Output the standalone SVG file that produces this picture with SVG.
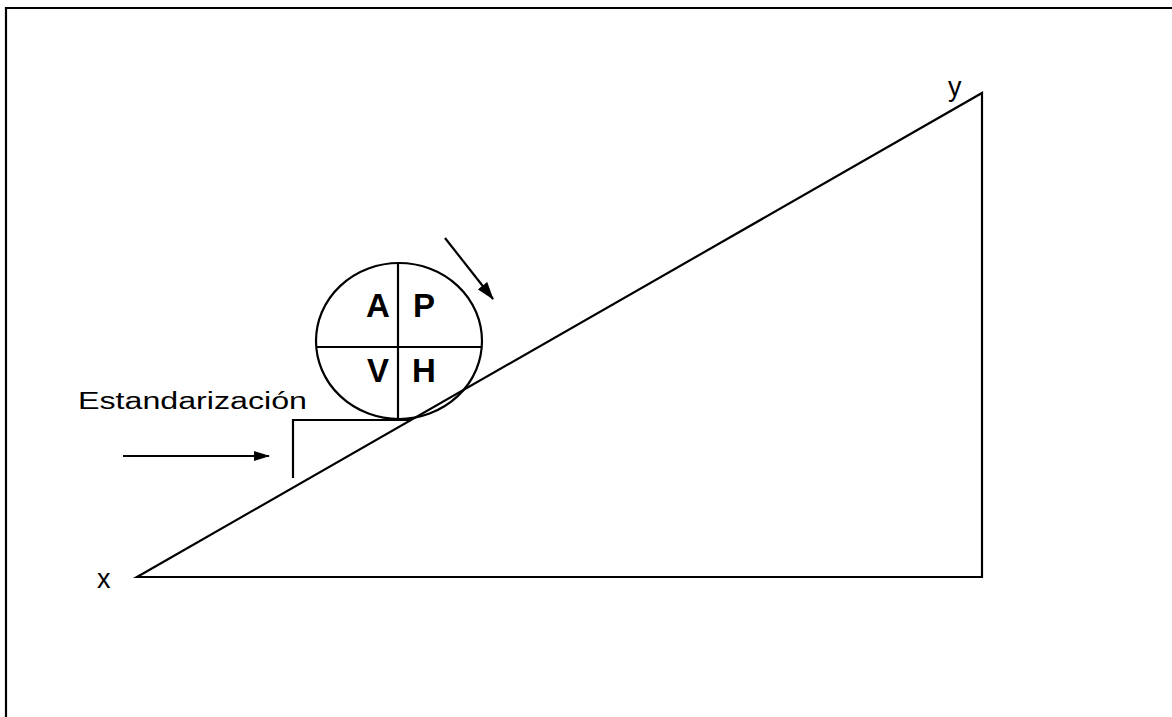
<svg xmlns="http://www.w3.org/2000/svg" width="1172" height="717" viewBox="0 0 1172 717">
<style>
.ln{stroke:#000;stroke-width:2.2;fill:none}
.t{font-family:"Liberation Sans",Arial,sans-serif;fill:#000}
.b{font-weight:bold;font-size:33px;text-anchor:middle}
</style>
<defs>
<marker id="ah" viewBox="0 0 16 10" refX="15" refY="5" markerWidth="16" markerHeight="11" markerUnits="userSpaceOnUse" orient="auto">
<path d="M0,0 L16,5 L0,10 Z" fill="#000"/>
</marker>
<marker id="ah2" viewBox="0 0 18 12" refX="17" refY="6" markerWidth="18" markerHeight="13" markerUnits="userSpaceOnUse" orient="auto">
<path d="M0,0 L18,6 L0,12 Z" fill="#000"/>
</marker>
</defs>
<rect width="1172" height="717" fill="#fff"/>
<g id="frame"><polyline class="ln" points="6,717 6,8 1172,8"/></g>
<g id="triangle">
<polygon class="ln" points="137,577 982,93 982,577"/>
<text class="t" x="97" y="588" font-size="27">x</text>
<text class="t" x="948" y="96" font-size="27">y</text>
</g>
<g id="circle">
<ellipse class="ln" cx="399" cy="341" rx="83" ry="78"/>
<line class="ln" x1="398" y1="263" x2="398" y2="419"/>
<line class="ln" x1="316" y1="347" x2="482" y2="347"/>
<text class="t b" x="378" y="317">A</text>
<text class="t b" x="424" y="317">P</text>
<text class="t b" x="378" y="382">V</text>
<text class="t b" x="424" y="382">H</text>
</g>
<g id="standard">
<polyline class="ln" points="293,478 293,420 410,420"/>
<text class="t" x="78" y="409" font-size="23" textLength="229" lengthAdjust="spacingAndGlyphs">Estandarización</text>
</g>
<g id="connectors">
<line class="ln" x1="123" y1="456" x2="269" y2="456" marker-end="url(#ah)"/>
<line class="ln" x1="445" y1="238" x2="493" y2="299" marker-end="url(#ah2)"/>
</g>
</svg>
